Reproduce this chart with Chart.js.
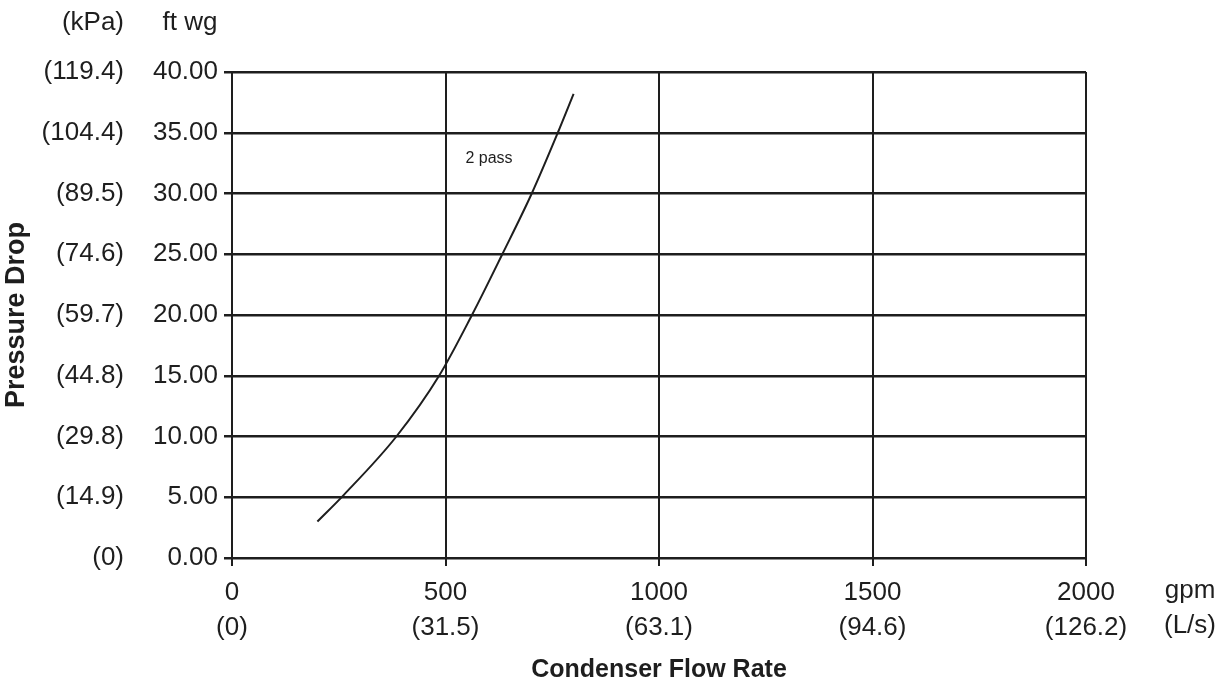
<!DOCTYPE html>
<html>
<head>
<meta charset="utf-8">
<script src="https://cdn.jsdelivr.net/npm/chart.js@4/dist/chart.umd.min.js"></script>
<style>
  html, body { margin: 0; padding: 0; background: #fff; }
  #wrap { width: 1225px; height: 685px; }
</style>
</head>
<body>
<div id="wrap"><canvas id="pdChart" width="1225" height="685"></canvas></div>
<script>
// Curve: condenser flow (gpm) vs pressure drop (ft wg)
const flowGpm = [200, 262, 385, 485, 562, 633, 702, 763, 800];
const dropFtWg = [3.0, 5.2, 10.0, 15.0, 20.0, 25.0, 30.0, 35.0, 38.2];

// Tick labels (imperial + metric)
const gpmTicks = ['0', '500', '1000', '1500', '2000'];
const lsTicks = ['(0)', '(31.5)', '(63.1)', '(94.6)', '(126.2)'];
const ftTicks = ['0.00', '5.00', '10.00', '15.00', '20.00', '25.00', '30.00', '35.00', '40.00'];
const kpaTicks = ['(0)', '(14.9)', '(29.8)', '(44.8)', '(59.7)', '(74.6)', '(89.5)', '(104.4)', '(119.4)'];

const curveLabel = { text: '2 pass', x: 602, y: 32.9 };

const ink = '#1e1e1e';
const FONT = 'Liberation Sans, Arial, Helvetica, sans-serif';
const TICK_SIZE = 26;

// extra text: unit headers and the curve label
const extraText = {
    id: 'extraText',
    afterDraw(chart) {
        const c = chart.ctx;
        const area = chart.chartArea;
        const xs = chart.scales.x, ys = chart.scales.y;
        c.save();
        c.fillStyle = ink;
        c.font = TICK_SIZE + 'px ' + FONT;
        c.textBaseline = 'middle';
        c.textAlign = 'right';
        c.fillText('(kPa)', 124, 23);
        c.textAlign = 'center';
        c.fillText('ft wg', 190, 23);
        c.fillText('gpm', 1190, area.bottom + 33);
        c.fillText('(L/s)', 1190, area.bottom + 68);
        c.font = '16px ' + FONT;
        c.fillText(curveLabel.text, xs.getPixelForValue(curveLabel.x), ys.getPixelForValue(curveLabel.y));
        c.restore();
    }
};

new Chart(document.getElementById('pdChart'), {
    type: 'scatter',
    data: {
        datasets: [{
            label: '2 pass',
            data: flowGpm.map((f, i) => ({ x: f, y: dropFtWg[i] })),
            showLine: true,
            borderColor: ink,
            borderWidth: 2,
            pointRadius: 0,
            cubicInterpolationMode: 'monotone'
        }]
    },
    options: {
        responsive: false,
        animation: false,
        layout: { padding: { top: 72, right: 139, left: 0, bottom: 0 } },
        plugins: { legend: { display: false }, tooltip: { enabled: false } },
        scales: {
            x: {
                type: 'linear',
                min: 0, max: 2000,
                afterBuildTicks: (axis) => { axis.ticks = gpmTicks.map(v => ({ value: +v })); },
                afterFit: (axis) => { axis.height = 127; },
                grid: { color: ink, lineWidth: 2, tickLength: 8 },
                border: { color: ink, width: 2 },
                ticks: {
                    color: ink,
                    maxRotation: 0,
                    padding: 9,
                    font: { family: FONT, size: TICK_SIZE, lineHeight: 1.35 },
                    callback: (v, i) => [gpmTicks[i], lsTicks[i]]
                },
                title: {
                    display: true,
                    text: 'Condenser Flow Rate',
                    color: ink,
                    font: { family: FONT, size: 25, weight: 'bold' },
                    padding: { top: 4, bottom: 0 }
                }
            },
            y: {
                type: 'linear',
                position: 'left',
                weight: 1,
                min: 0, max: 40,
                afterBuildTicks: (axis) => { axis.ticks = ftTicks.map(v => ({ value: +v })); },
                afterFit: (axis) => { axis.width = 92; },
                grid: { color: ink, lineWidth: 2.5, tickLength: 8 },
                border: { color: ink, width: 2 },
                ticks: {
                    color: ink,
                    padding: 6,
                    font: { family: FONT, size: TICK_SIZE },
                    callback: (v, i) => ftTicks[i]
                }
            },
            yk: {
                type: 'linear',
                position: 'left',
                weight: 2,
                min: 0, max: 40,
                afterBuildTicks: (axis) => { axis.ticks = ftTicks.map(v => ({ value: +v })); },
                afterFit: (axis) => { axis.width = 140; },
                grid: { display: false, drawTicks: false },
                border: { display: false },
                ticks: {
                    color: ink,
                    padding: 16,
                    font: { family: FONT, size: TICK_SIZE },
                    callback: (v, i) => kpaTicks[i]
                },
                title: {
                    display: true,
                    text: 'Pressure Drop',
                    color: ink,
                    font: { family: FONT, size: 27, weight: 'bold' },
                    padding: { top: 0, bottom: 2 }
                }
            }
        }
    },
    plugins: [extraText]
});
</script>
</body>
</html>
